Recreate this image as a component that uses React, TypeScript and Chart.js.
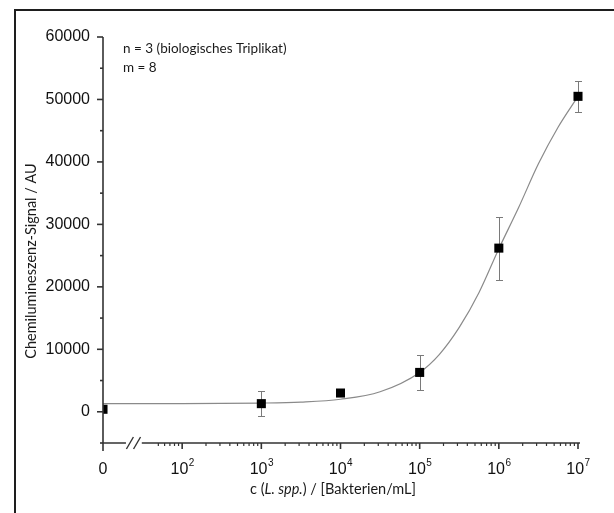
import React, { useEffect, useRef } from 'react';
import { Chart, registerables } from 'chart.js';

Chart.register(...registerables);

// ---- data (x positions are log10 of concentration; "0" sits at the axis-break position 1) ----
const CONC_LABELS = ['0', '10³', '10⁴', '10⁵', '10⁶', '10⁷'];
const X_POS = [1, 3, 4, 5, 6, 7];
const SIGNAL = [400, 1300, 3000, 6300, 26200, 50500];
const SIGNAL_ERR = [300, 1950, 400, 2750, 5050, 2500];

// fitted curve
const FIT_X = [1, 2, 3, 3.5, 4, 4.5, 5, 5.25, 5.5, 5.75, 6, 6.25, 6.5, 6.75, 7];
const FIT_Y = [1300, 1300, 1390, 1550, 2000, 3200, 6300, 9200, 13500, 19100, 26100, 32700, 39700, 45600, 50500];

// axes
const Y_TICKS = [0, 10000, 20000, 30000, 40000, 50000, 60000];
const Y_MINOR = [-5000, 5000, 15000, 25000, 35000, 45000, 55000];
const X_MAJOR = [1, 2, 3, 4, 5, 6, 7];
const X_TICK_BASE = ['0', '10', '10', '10', '10', '10', '10'];
const X_TICK_EXP = ['', '2', '3', '4', '5', '6', '7'];

const ANNOT_LINES = ['n = 3 (biologisches Triplikat)', 'm = 8'];
const Y_TITLE = 'Chemilumineszenz-Signal / AU';
const X_TITLE_PARTS = [
  { text: 'c (', italic: false },
  { text: 'L. spp.', italic: true },
  { text: ') / [Bakterien/mL]', italic: false },
];

const TEXT_FONT = 'Lato, "Open Sans", sans-serif';
const TICK_FONT = '"Liberation Sans", Arial, sans-serif';

const decor = {
  id: 'decor',
  beforeDatasetsDraw(chart: any) {
    const { ctx, scales, chartArea } = chart;
    const x = scales.x;
    const y = scales.y;
    ctx.save();
    ctx.beginPath();
    ctx.rect(chartArea.left, chartArea.top - 20, chartArea.right - chartArea.left + 20, chartArea.bottom - chartArea.top + 20);
    ctx.clip();
    ctx.strokeStyle = '#7a7a7a';
    ctx.lineWidth = 1;
    X_POS.forEach((xv, i) => {
      const px = Math.round(x.getPixelForValue(xv)) + 0.5;
      const top = Math.round(y.getPixelForValue(SIGNAL[i] + SIGNAL_ERR[i])) + 0.5;
      const bot = Math.round(y.getPixelForValue(SIGNAL[i] - SIGNAL_ERR[i])) + 0.5;
      ctx.beginPath();
      ctx.moveTo(px, top);
      ctx.lineTo(px, bot);
      ctx.moveTo(px - 3.5, top);
      ctx.lineTo(px + 3.5, top);
      ctx.moveTo(px - 3.5, bot);
      ctx.lineTo(px + 3.5, bot);
      ctx.stroke();
    });
    ctx.restore();
  },
  afterDatasetsDraw(chart: any) {
    const { ctx, scales } = chart;
    const x = scales.x;
    const y = scales.y;
    const x0 = x.getPixelForValue(1);
    const xEnd = x.getPixelForValue(7);
    const yb = y.getPixelForValue(-5000);
    const yTop = y.getPixelForValue(60000);
    ctx.save();
    ctx.strokeStyle = '#333';
    ctx.lineWidth = 1.6;
    ctx.lineCap = 'butt';
    // y axis line
    ctx.beginPath();
    ctx.moveTo(x0, yTop);
    ctx.lineTo(x0, yb + 8);
    ctx.stroke();
    // y ticks
    Y_TICKS.forEach((v) => {
      const py = y.getPixelForValue(v);
      ctx.beginPath();
      ctx.moveTo(x0 - 6, py);
      ctx.lineTo(x0, py);
      ctx.stroke();
    });
    Y_MINOR.forEach((v) => {
      const py = y.getPixelForValue(v);
      ctx.beginPath();
      ctx.moveTo(x0 - 3, py);
      ctx.lineTo(x0, py);
      ctx.stroke();
    });
    // x axis line with break
    const b1 = x.getPixelForValue(1.29);
    const b2 = x.getPixelForValue(1.49);
    ctx.beginPath();
    ctx.moveTo(x0, yb);
    ctx.lineTo(b1, yb);
    ctx.moveTo(b2, yb);
    ctx.lineTo(xEnd + 2, yb);
    ctx.stroke();
    // break slashes
    ctx.lineWidth = 1.4;
    const s1 = x.getPixelForValue(1.34);
    const s2 = x.getPixelForValue(1.43);
    [s1, s2].forEach((sx) => {
      ctx.beginPath();
      ctx.moveTo(sx - 3.5, yb + 6);
      ctx.lineTo(sx + 3.5, yb - 6);
      ctx.stroke();
    });
    ctx.lineWidth = 1.6;
    // x ticks
    X_MAJOR.forEach((v) => {
      if (v === 1) return;
      const px = x.getPixelForValue(v);
      ctx.beginPath();
      ctx.moveTo(px, yb);
      ctx.lineTo(px, yb + 6);
      ctx.stroke();
    });
    ctx.lineWidth = 1.2;
    for (let d = 1; d < 7; d++) {
      for (let k = 2; k <= 9; k++) {
        const v = d + Math.log10(k);
        if (v < 1.65) continue;
        const px = x.getPixelForValue(v);
        ctx.beginPath();
        ctx.moveTo(px, yb);
        ctx.lineTo(px, yb + 3);
        ctx.stroke();
      }
    }
    // x tick labels
    ctx.fillStyle = '#111';
    ctx.textBaseline = 'alphabetic';
    X_MAJOR.forEach((v, i) => {
      const px = x.getPixelForValue(v);
      ctx.font = `16px ${TICK_FONT}`;
      const wb = ctx.measureText(X_TICK_BASE[i]).width;
      ctx.font = `10px ${TICK_FONT}`;
      const we = X_TICK_EXP[i] ? ctx.measureText(X_TICK_EXP[i]).width : 0;
      const start = px - (wb + we) / 2;
      ctx.font = `16px ${TICK_FONT}`;
      ctx.textAlign = 'left';
      ctx.fillText(X_TICK_BASE[i], start, yb + 31);
      if (X_TICK_EXP[i]) {
        ctx.font = `10px ${TICK_FONT}`;
        ctx.fillText(X_TICK_EXP[i], start + wb + 0.5, yb + 23);
      }
    });
    ctx.restore();
  },
  afterDraw(chart: any) {
    const { ctx } = chart;
    ctx.save();
    // frame
    ctx.strokeStyle = '#1e1e1e';
    ctx.lineWidth = 2;
    ctx.beginPath();
    ctx.moveTo(15, 700);
    ctx.lineTo(15, 10);
    ctx.lineTo(700, 10);
    ctx.stroke();
    ctx.fillStyle = '#1a1a1a';
    // annotation
    ctx.font = `13.5px ${TEXT_FONT}`;
    ctx.textAlign = 'left';
    ctx.textBaseline = 'alphabetic';
    ctx.fillText(ANNOT_LINES[0], 123, 53);
    ctx.fillText(ANNOT_LINES[1], 123, 72);
    // x title
    let total = 0;
    const widths = X_TITLE_PARTS.map((p) => {
      ctx.font = `${p.italic ? 'italic ' : ''}14.5px ${TEXT_FONT}`;
      const w = ctx.measureText(p.text).width;
      total += w;
      return w;
    });
    let cx = 333 - total / 2;
    X_TITLE_PARTS.forEach((p, i) => {
      ctx.font = `${p.italic ? 'italic ' : ''}14.5px ${TEXT_FONT}`;
      ctx.fillText(p.text, cx, 494);
      cx += widths[i];
    });
    // y title
    ctx.translate(31, 261);
    ctx.rotate(-Math.PI / 2);
    ctx.font = `14.5px ${TEXT_FONT}`;
    ctx.textAlign = 'center';
    ctx.textBaseline = 'middle';
    ctx.fillText(Y_TITLE, 0, 0);
    ctx.restore();
  },
};

export default function App() {
  const ref = useRef<HTMLCanvasElement | null>(null);
  useEffect(() => {
    if (!ref.current) return;
    const chart = new Chart(ref.current, {
      type: 'scatter',
      data: {
        datasets: [
          {
            type: 'line',
            label: 'Fit',
            data: FIT_X.map((v, i) => ({ x: v, y: FIT_Y[i] })),
            borderColor: '#8a8a8a',
            borderWidth: 1.2,
            pointRadius: 0,
            cubicInterpolationMode: 'monotone',
            fill: false,
            order: 2,
          } as any,
          {
            type: 'scatter',
            label: 'Signal',
            data: X_POS.map((v, i) => ({ x: v, y: SIGNAL[i], label: CONC_LABELS[i] })),
            pointStyle: 'rect',
            pointRadius: 6.4,
            backgroundColor: '#000',
            borderWidth: 0,
            order: 1,
            clip: { left: 0, top: 20, right: 20, bottom: 20 },
          } as any,
        ],
      },
      options: {
        responsive: false,
        animation: false,
        devicePixelRatio: 1,
        layout: { padding: { left: 0, right: 36, top: 37, bottom: 0 } },
        plugins: { legend: { display: false }, tooltip: { enabled: false } },
        scales: {
          x: {
            type: 'linear',
            min: 1,
            max: 7,
            grid: { display: false },
            border: { display: false },
            ticks: { display: false },
            afterFit: (s: any) => {
              s.height = 70;
            },
          },
          y: {
            type: 'linear',
            min: -5000,
            max: 60000,
            grid: { display: false },
            border: { display: false },
            ticks: {
              color: '#111',
              padding: 5,
              font: { family: TICK_FONT, size: 16 },
              callback: (v: any) => String(v),
            },
            afterBuildTicks: (s: any) => {
              s.ticks = Y_TICKS.map((v) => ({ value: v }));
            },
            afterFit: (s: any) => {
              s.width = 103;
            },
          },
        },
      } as any,
      plugins: [decor],
    });
    return () => chart.destroy();
  }, []);
  return (
    <div style={{ position: 'absolute', left: 0, top: 0, width: 614, height: 513, background: '#fff' }}>
      <canvas ref={ref} width={614} height={513} style={{ display: 'block' }} />
    </div>
  );
}
